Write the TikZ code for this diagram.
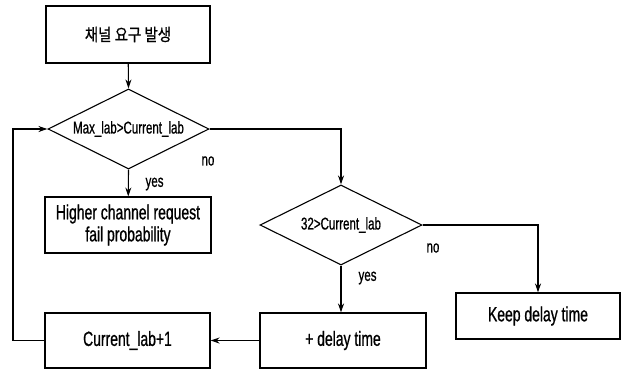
\documentclass[tikz,border=0pt]{standalone}
\usepackage{fontspec}
\setmainfont{Liberation Sans}[FakeStretch=0.68,FakeBold=0.8]
\newfontfamily\kr{Noto Sans CJK KR}[FakeStretch=0.85,FakeBold=0.8]
\usetikzlibrary{shapes.geometric,arrows.meta}
\begin{document}
\begin{tikzpicture}[x=1pt,y=-1pt,
  line width=1.1pt,
  box/.style={draw, rectangle, inner sep=0pt, font=\fontsize{20.5}{22}\selectfont, align=center},
  dec/.style={draw, diamond, aspect=2.2, inner sep=0pt, font=\fontsize{17}{19}\selectfont},
  lbl/.style={anchor=west, inner sep=0pt, font=\fontsize{17}{19}\selectfont},
  arr/.style={-{Stealth[length=9pt,width=6pt]}}]
\useasboundingbox (0,0) rectangle (622,370);
\node[box, minimum width=164pt, minimum height=57pt, font=\kr\fontsize{17}{19}\selectfont] (start) at (128,34.5) {채널 요구 발생};
\node[dec, minimum width=161pt, minimum height=80pt] (d1) at (128.5,129) {Max\_lab>Current\_lab};
\node[box, minimum width=166pt, minimum height=56pt] (fail) at (128,225) {Higher channel request\\fail probability};
\node[dec, minimum width=162pt, minimum height=80pt] (d2) at (341,225) {32>Current\_lab};
\node[box, minimum width=164pt, minimum height=46pt] (keep) at (538,316) {Keep delay time};
\node[box, minimum width=166pt, minimum height=55pt] (delay) at (343,340.5) {+ delay time};
\node[box, minimum width=165pt, minimum height=55pt] (cur) at (127.5,340.5) {Current\_lab+1};
\coordinate (loopx) at (13,0);
\draw[arr] (start) -- (d1.north);
\draw[arr] (d1.south) -- (fail);
\draw[arr] (d1.east) -| (d2.north);
\draw[arr] (d2.south) -- (d2.south |- delay.north);
\draw[arr] (d2.east) -| (keep.north -| 538,0);
\draw[arr] (delay) -- (cur);
\draw[arr] (cur.west) -- (cur.west -| loopx) |- (d1.west);
\node[lbl] (no1) at (201,161) {no};
\node[lbl] (yes1) at (145,184) {yes};
\node[lbl] (no2) at (426,248) {no};
\node[lbl] (yes2) at (358,278) {yes};
\end{tikzpicture}
\end{document}
